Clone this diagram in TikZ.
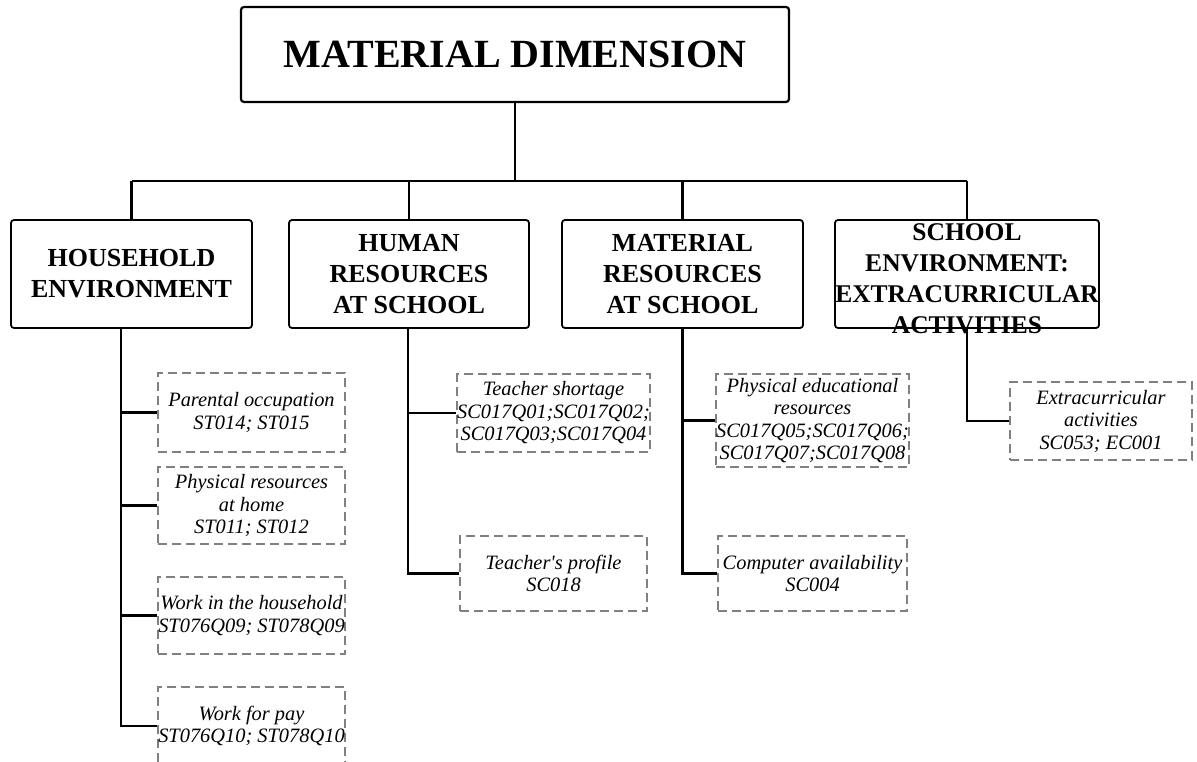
\documentclass[tikz,border=0pt]{standalone}
\usepackage{fontspec}
\setmainfont{Liberation Serif}
\begin{document}
\begin{tikzpicture}[x=1pt,y=-1pt,
  mainbox/.style={draw, line width=2.2pt, rounded corners=3pt, inner sep=0pt, align=center,
    font=\fontsize{40}{46}\selectfont\bfseries},
  catbox/.style={draw, line width=1.8pt, rounded corners=3pt, inner sep=0pt, align=center,
    font=\fontsize{26}{31}\selectfont\bfseries, minimum height=108pt},
  cattext/.style={inner sep=0pt, align=center, font=\fontsize{25.5}{31}\selectfont\bfseries},
  itembox/.style={draw=gray, dash pattern=on 9pt off 5pt, line width=2pt, inner sep=0pt, align=center,
    font=\fontsize{20.4}{22.5}\selectfont\itshape, minimum width=187pt},
  link/.style={line width=2.6pt}]
\useasboundingbox (0,0) rectangle (1197,762);

% top
\node[mainbox, minimum width=548pt, minimum height=95pt] (top) at (515,54.5) {MATERIAL DIMENSION};

% categories
\node[catbox, minimum width=241pt] (hh) at (131.5,274) {HOUSEHOLD\\ENVIRONMENT};
\node[catbox, minimum width=240pt] (hr) at (409,274) {HUMAN\\RESOURCES\\AT SCHOOL};
\node[catbox, minimum width=241pt] (mr) at (682.5,274) {MATERIAL\\RESOURCES\\AT SCHOOL};
\node[catbox, minimum width=264pt] (se) at (967,274) {};
\node[cattext] (setext) at ([yshift=-5pt]se.center) {SCHOOL\\ENVIRONMENT:\\EXTRACURRICULAR\\ACTIVITIES};

% items
\node[itembox, minimum height=79pt] (c1) at (251.5,412.5) {Parental occupation\\ST014; ST015};
\node[itembox, minimum height=77pt] (c2) at (251.5,505.5) {Physical resources\\at home\\ST011; ST012};
\node[itembox, minimum height=77pt] (c3) at (251.5,615.5) {Work in the household\\ST076Q09; ST078Q09};
\node[itembox, minimum height=78pt] (c4) at (251.5,726) {Work for pay\\ST076Q10; ST078Q10};

\node[itembox, minimum height=78pt] (t1) at (553.5,413) {Teacher shortage\\SC017Q01;SC017Q02;\\SC017Q03;SC017Q04};
\node[itembox, minimum height=75pt] (t2) at (553.5,573.5) {Teacher\textquotesingle s profile\\SC018};

\node[itembox, minimum width=189pt, minimum height=93pt] (m1) at (812.5,420.5) {Physical educational\\resources\\SC017Q05;SC017Q06;\\SC017Q07;SC017Q08};
\node[itembox, minimum width=189pt, minimum height=75pt] (m2) at (812.5,573.5) {Computer availability\\SC004};

\node[itembox, minimum width=182pt, minimum height=78pt] (e1) at (1101,421) {Extracurricular\\activities\\SC053; EC001};

% connectors top level
\coordinate (bus) at (0,181);
\draw[link] (top.south) -- (top.south |- bus);
\draw[link] (hh.north |- bus) -- (se.north |- bus);
\foreach \b in {hh,hr,mr,se} \draw[link] (\b.north |- bus) -- (\b.north);

% household branch
\coordinate (hhs) at ([xshift=-10.5pt]hh.south);
\draw[link] (hhs) |- (c4.west);
\foreach \c in {c1,c2,c3} \draw[link] (hhs |- \c.west) -- (\c.west);

% human resources branch
\coordinate (hrs) at ([xshift=-1pt]hr.south);
\draw[link] (hrs) |- (t2.west);
\draw[link] (hrs |- t1.west) -- (t1.west);

% material resources branch
\draw[link] (mr.south) |- (m2.west);
\draw[link] (mr.south |- m1.west) -- (m1.west);

% school environment branch
\draw[link] (se.south) |- (e1.west);
\end{tikzpicture}
\end{document}
